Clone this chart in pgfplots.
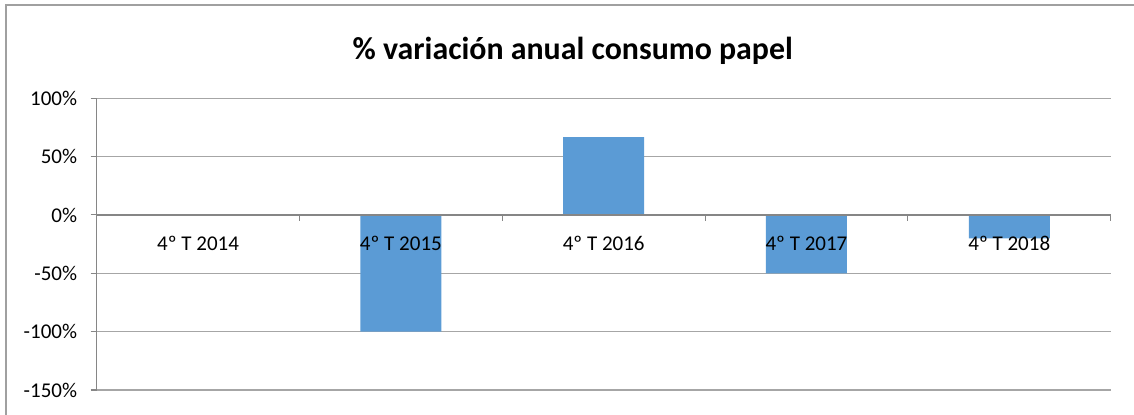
\documentclass[border=0pt]{standalone}
\usepackage{pgfplots}
\pgfplotsset{compat=1.18}
\usepackage{fontspec}
\setmainfont{Carlito}
\definecolor{barblue}{HTML}{5B9BD5}
\definecolor{gridgray}{HTML}{A6A6A6}
\definecolor{axisgray}{HTML}{868686}
\definecolor{bordergray}{HTML}{A0A0A0}
\begin{document}
\begin{tikzpicture}
\useasboundingbox (-72.53pt,-18.75pt) rectangle (778pt,292.5pt);
\draw[bordergray, line width=1.1pt] (-68pt,-30pt) -- (-68pt,288.75pt) -- (790pt,288.75pt);
\begin{axis}[
  at={(0,0)}, anchor=south west,
  scale only axis, width=760.5pt, height=218.8pt,
  xmin=-0.5, xmax=4.5, ymin=-150, ymax=100,
  axis x line=none, axis y line*=left,
  y axis line style={axisgray, line width=1pt},
  xtick=\empty,
  ytick={-150,-100,-50,0,50,100},
  yticklabel={\pgfmathprintnumber{\tick}\%},
  /pgf/number format/assume math mode=true,
  yticklabel style={font=\fontsize{15.75}{18}\selectfont, anchor=east, inner sep=0pt, xshift=-10pt},
  tick align=outside, major tick length=4.5pt,
  major tick style={axisgray, line width=0.8pt},
  ymajorgrids, grid style={gridgray, line width=0.8pt},
  clip=false,
]
\addplot[ybar, bar width=60.75pt, fill=barblue, draw=none] coordinates {(0,0) (1,-100) (2,66.7) (3,-50) (4,-20)};
\draw[axisgray, line width=1.2pt] (axis cs:-0.5,0) -- (axis cs:4.5,0);
\draw[axisgray, line width=0.8pt] (axis cs:0.5,0) -- ([yshift=-4.5pt]axis cs:0.5,0);
\draw[axisgray, line width=0.8pt] (axis cs:1.5,0) -- ([yshift=-4.5pt]axis cs:1.5,0);
\draw[axisgray, line width=0.8pt] (axis cs:2.5,0) -- ([yshift=-4.5pt]axis cs:2.5,0);
\draw[axisgray, line width=0.8pt] (axis cs:3.5,0) -- ([yshift=-4.5pt]axis cs:3.5,0);
\draw[axisgray, line width=0.8pt] (axis cs:4.5,0) -- ([yshift=-4.5pt]axis cs:4.5,0);
\node[font=\fontsize{15.75}{18}\selectfont, inner sep=0pt] at (axis cs:0,0) [yshift=-21pt] {4º T 2014};
\node[font=\fontsize{15.75}{18}\selectfont, inner sep=0pt] at (axis cs:1,0) [yshift=-21pt] {4º T 2015};
\node[font=\fontsize{15.75}{18}\selectfont, inner sep=0pt] at (axis cs:2,0) [yshift=-21pt] {4º T 2016};
\node[font=\fontsize{15.75}{18}\selectfont, inner sep=0pt] at (axis cs:3,0) [yshift=-21pt] {4º T 2017};
\node[font=\fontsize{15.75}{18}\selectfont, inner sep=0pt] at (axis cs:4,0) [yshift=-21pt] {4º T 2018};
\end{axis}
\node[font=\bfseries\fontsize{23.9}{28}\selectfont] at (357pt,254.3pt) {\% variación anual consumo papel};
\end{tikzpicture}
\end{document}
